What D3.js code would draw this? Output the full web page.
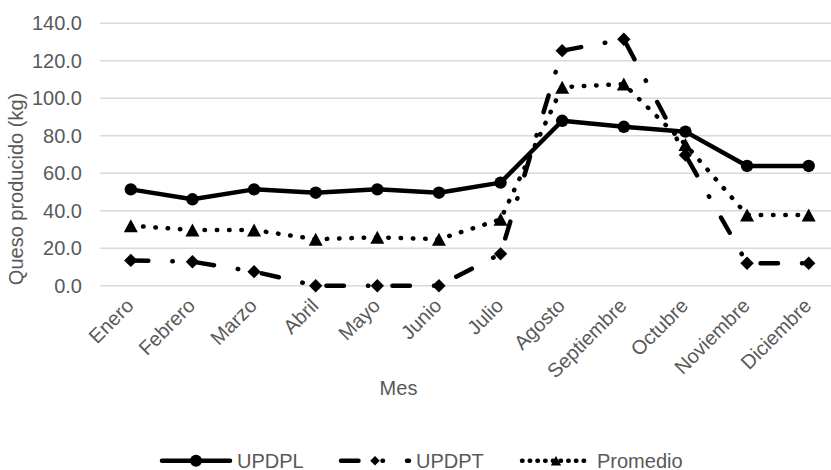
<!DOCTYPE html>
<html>
<head>
<meta charset="utf-8">
<script src="https://cdn.jsdelivr.net/npm/d3@7/dist/d3.min.js"></script>
<style>
  html, body { margin: 0; padding: 0; background: #ffffff; }
  svg { display: block; }
  text { font-family: "Liberation Sans", Arial, sans-serif; fill: #595959; }
</style>
</head>
<body>
<svg id="chart" width="831" height="470"></svg>
<script>
// Monthly cheese production (kg)
const months = ["Enero", "Febrero", "Marzo", "Abril", "Mayo", "Junio",
                "Julio", "Agosto", "Septiembre", "Octubre", "Noviembre", "Diciembre"];
const updpl    = [51.4, 46.1, 51.4, 49.6, 51.4, 49.6, 55.0, 88.0, 84.8, 82.2, 63.9, 63.9];
const updpt    = [13.5, 12.8, 7.5, 0.0, 0.0, 0.0, 17.0, 125.4, 131.5, 69.7, 12.0, 12.0];
const promedio = [32.0, 29.7, 29.7, 24.8, 25.8, 24.8, 35.4, 105.9, 107.6, 75.4, 37.7, 37.7];
const yTicks   = [0, 20, 40, 60, 80, 100, 120, 140];
const seriesNames = ["UPDPL", "UPDPT", "Promedio"];

const svg = d3.select("#chart");

const x = d3.scalePoint().domain(months).range([100, 839.5]).padding(0.5);
const y = d3.scaleLinear().domain([0, 140]).range([285.7, 23.3]);

// Horizontal gridlines
svg.append("g")
  .selectAll("line")
  .data(yTicks)
  .join("line")
  .attr("x1", 100).attr("x2", 839.5)
  .attr("y1", d => y(d)).attr("y2", d => y(d))
  .attr("stroke", "#d9d9d9").attr("stroke-width", 1.5);

// Y axis labels
const yAxis = d3.axisLeft(y).tickValues(yTicks).tickFormat(d3.format(".1f")).tickSize(0).tickPadding(0);
const gy = svg.append("g").attr("transform", "translate(82,0)").call(yAxis);
gy.select(".domain").remove();
gy.selectAll("text").attr("font-size", 20).attr("fill", "#595959")
  .attr("font-family", "Liberation Sans, Arial, sans-serif");

// X axis labels, rotated
const xAxis = d3.axisBottom(x).tickSize(0).tickPadding(0);
const gx = svg.append("g").attr("transform", "translate(0,0)").call(xAxis);
gx.select(".domain").remove();
gx.selectAll(".tick").attr("transform", null);
gx.selectAll(".tick text")
  .attr("font-size", 20).attr("fill", "#595959")
  .attr("font-family", "Liberation Sans, Arial, sans-serif")
  .attr("text-anchor", "end")
  .attr("dy", null).attr("y", null)
  .attr("transform", d => `translate(${x(d) + 4},307) rotate(-45)`);

// Axis titles
svg.append("text")
  .attr("transform", "translate(22.5,189) rotate(-90)")
  .attr("text-anchor", "middle")
  .attr("font-size", 20)
  .text("Queso producido (kg)");

svg.append("text")
  .attr("x", 398.5).attr("y", 395)
  .attr("text-anchor", "middle")
  .attr("font-size", 20)
  .text("Mes");

// Series styles
const styles = [
  { dash: null,                  legendDash: null },
  { dash: "17.5,24,0.5,24",      legendDash: "17.5,24,0.5,24" },
  { dash: "0.5,11.8",            legendDash: "0.5,7.2" }
];

const markerPath = [
  d3.symbol().type(d3.symbolCircle).size(Math.PI * 6.2 * 6.2),
  () => "M0,-6.7L6.7,0L0,6.7L-6.7,0Z",
  () => "M0,-6.5L7,6.5L-7,6.5Z"
];
const legendMarkerPath = [
  d3.symbol().type(d3.symbolCircle).size(Math.PI * 6 * 6),
  () => "M0,-4.8L4.8,0L0,4.8L-4.8,0Z",
  () => "M0,-4.8L5.2,4.8L-5.2,4.8Z"
];

const line = d3.line().x((d, i) => x(months[i])).y(d => y(d));
const allSeries = [updpl, updpt, promedio];

allSeries.forEach((vals, si) => {
  const g = svg.append("g");
  g.append("path")
    .attr("d", line(vals))
    .attr("fill", "none")
    .attr("stroke", "#000")
    .attr("stroke-width", 4.5)
    .attr("stroke-linejoin", "round")
    .attr("stroke-linecap", "round")
    .attr("stroke-dasharray", styles[si].dash);
  g.selectAll("path.m")
    .data(vals)
    .join("path")
    .attr("class", "m")
    .attr("d", markerPath[si])
    .attr("transform", (d, i) => `translate(${x(months[i])},${y(d)})`)
    .attr("fill", "#000");
});

// Legend
const legendItems = [
  { x0: 162, label: "UPDPL" },
  { x0: 341, label: "UPDPT" },
  { x0: 522, label: "Promedio" }
];
const legY = 460.7;
legendItems.forEach((it, si) => {
  const g = svg.append("g");
  g.append("line")
    .attr("x1", it.x0).attr("x2", it.x0 + 68)
    .attr("y1", legY).attr("y2", legY)
    .attr("stroke", "#000").attr("stroke-width", 4.5)
    .attr("stroke-linecap", "round")
    .attr("stroke-dasharray", styles[si].legendDash);
  g.append("path")
    .attr("d", legendMarkerPath[si]())
    .attr("transform", `translate(${it.x0 + 34},${legY})`)
    .attr("fill", "#000");
  g.append("text")
    .attr("x", it.x0 + 75).attr("y", 467.5)
    .attr("font-size", 20)
    .text(seriesNames[si]);
});
</script>
</body>
</html>
